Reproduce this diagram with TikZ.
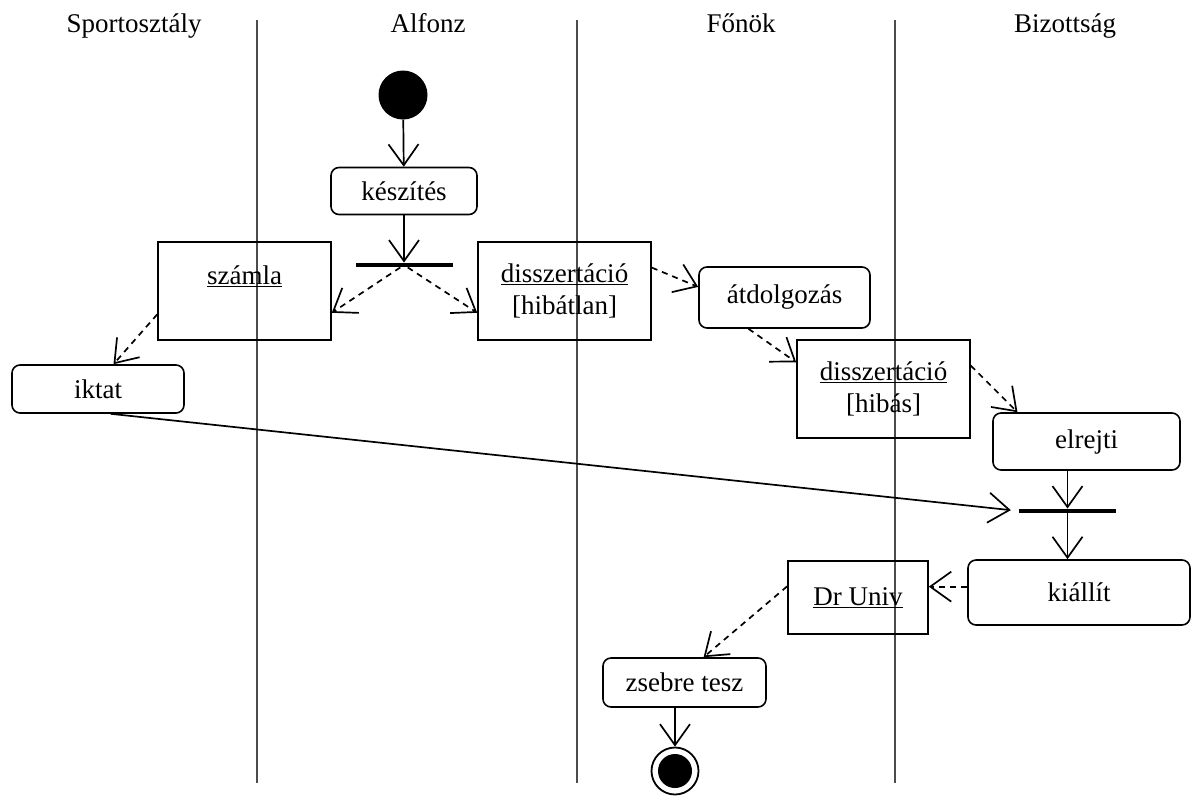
\documentclass[tikz,border=0pt]{standalone}
\usepackage{fontspec}
\setmainfont{Liberation Serif}
\usetikzlibrary{arrows.meta,positioning}

\begin{document}
\begin{tikzpicture}[
    x = 1pt,
    y = -1pt,
    font = \fontsize{27}{32}\selectfont,
    lane/.style={
        draw = black!70,
        line width = 2pt
    },
    act/.style={
        draw,
        rounded corners = 8pt,
        line width = 1.6pt,
        inner sep = 0pt
    },
    obj/.style={
        draw,
        line width = 1.6pt,
        inner sep = 0pt,
        align = center
    },
    bar/.style={
        fill = black,
        inner sep = 0pt,
        minimum width = 97pt,
        minimum height = 4.5pt
    },
    flow/.style={
        line width = 1.7pt,
        -{Straight Barb[length=21pt,width=30pt,line width=1.7pt]}
    },
    objflow/.style={
        flow,
        dash pattern = on 6pt off 5pt
    }
]
\useasboundingbox (0,0) rectangle (1191,796);

% swimlanes
\foreach \lx in {257,577,895}
    \draw[lane] (\lx,20) -- (\lx,783);
\node[anchor = base] (h1) at (134,32) {Sportosztály};
\node[anchor = base] (h2) at (428,32) {Alfonz};
\node[anchor = base] (h3) at (741,32) {Főnök};
\node[anchor = base] (h4) at (1065,32) {Bizottság};

% nodes
\node[circle, fill, inner sep = 0pt, minimum size = 49pt] (start) at (403,95) {};
\node[act, minimum width = 146pt, minimum height = 47pt] (keszit) at (404,191) {készítés};
\node[bar] (fork1) at (404,265) {};
\node[obj, minimum width = 173pt, minimum height = 98pt] (szamla) at (244.5,291) {\underline{számla}\\\mbox{}};
\node[obj, minimum width = 173pt, minimum height = 98pt] (dissz1) at (564.5,291) {\underline{disszertáció}\\{[hibátlan]}};
\node[act, minimum width = 171pt, minimum height = 61pt] (atdolg) at (784.5,297.5) {átdolgozás};
\node[act, minimum width = 172pt, minimum height = 48pt] (iktat) at (98,389) {iktat};
\node[obj, minimum width = 173pt, minimum height = 98pt] (dissz2) at (883.5,389) {\underline{disszertáció}\\{[hibás]}};
\node[act, minimum width = 187pt, minimum height = 57pt] (elrejt) at (1086.5,441.5) {elrejti};
\node[bar] (join1) at (1067.5,511) {};
\node[act, minimum width = 222pt, minimum height = 65pt] (kiallit) at (1079,592.5) {kiállít};
\node[obj, minimum width = 140pt, minimum height = 73pt] (drUniv) at (858,597.5) {\underline{Dr Univ}};
\node[act, minimum width = 163pt, minimum height = 49pt] (zsebre) at (684.5,682.5) {zsebre tesz};
\node[circle, draw, line width = 1.8pt, inner sep = 0pt, minimum size = 47pt] (stop) at (675,771) {};
\node[circle, fill, inner sep = 0pt, minimum size = 34pt] (stopin) at (stop) {};

% control flow
\draw[flow] (start) -- (keszit);
\draw[flow] (keszit) -- (fork1);
\draw[flow] (elrejt.south -| join1) -- (join1);
\draw[flow] (join1) -- (join1 |- kiallit.north);
\draw[flow, shorten > = 8pt] (iktat.-63) -- (join1.west);
\draw[flow] (zsebre.south -| stop) -- (stop);

% object flow
\draw[objflow] (fork1) -- (szamla.-14);
\draw[objflow] (fork1) -- (dissz1.194);
\draw[objflow] (szamla.195) -- (iktat.58);
\draw[objflow] (dissz1.15) -- (atdolg.173);
\draw[objflow] (atdolg.221) -- (dissz2.163);
\draw[objflow] (dissz2.15) -- (elrejt.157);
\draw[objflow] (kiallit.177) -- (kiallit.177 -| drUniv.east);
\draw[objflow] (drUniv.171) -- (zsebre.53);

\end{tikzpicture}
\end{document}
